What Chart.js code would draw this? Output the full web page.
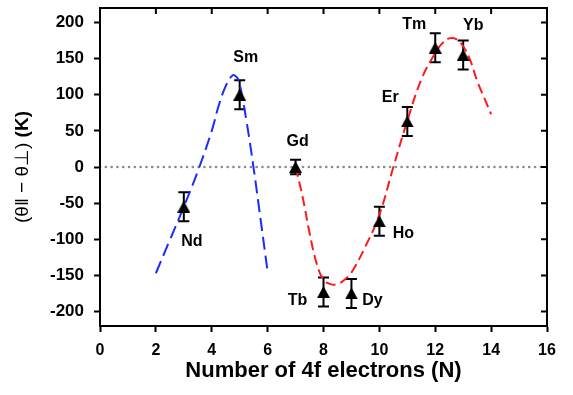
<!DOCTYPE html>
<html>
<head>
<meta charset="utf-8">
<script src="https://cdn.jsdelivr.net/npm/chart.js@4.4.1/dist/chart.umd.min.js"></script>
<style>
  html, body { margin: 0; padding: 0; background: #fff; }
  #chart { display: block; }
</style>
</head>
<body>
<canvas id="chart" width="573" height="395"></canvas>
<script>
// ---- data ----
var elements   = ['Nd', 'Sm', 'Gd', 'Tb', 'Dy', 'Ho', 'Er', 'Tm', 'Yb'];
var electrons  = [3, 5, 7, 8, 9, 10, 11, 12, 13];
var anisotropy = [-55, 100, 0, -173, -175, -75, 63, 165, 155];
var errors     = [20, 20, 10, 20, 20, 20, 20, 20, 20];

// light rare earth fit (blue dashed)
var lightFitX = [2, 2.5, 3, 3.5, 4, 4.25, 4.5, 4.75, 4.9, 5, 5.25, 5.5, 5.75, 6];
var lightFitY = [-147, -101, -55, -6, 50, 85, 112, 127, 124, 115, 62, -2, -73, -145];

// heavy rare earth fit (red dashed)
var heavyFitX = [7, 7.25, 7.5, 7.75, 8, 8.25, 8.5, 8.75, 9, 9.5, 10, 10.5, 11, 11.5, 12, 12.25, 12.5, 12.75, 13, 13.25, 13.5, 13.75, 14];
var heavyFitY = [0, -41, -91, -133, -156, -162, -162, -156, -146, -110, -66, 0, 64, 121, 158, 171, 178, 177, 167, 148, 119, 96, 73];

var xTicks = [0, 2, 4, 6, 8, 10, 12, 14, 16];
var yTicks = [-200, -150, -100, -50, 0, 50, 100, 150, 200];

// label placement relative to each point (px)
var labelOffsets = {
    Nd: [8, 35], Sm: [6, -37], Gd: [2, -25], Tb: [-26, 9], Dy: [21, 7],
    Ho: [24, 12], Er: [-17, -24], Tm: [-21, -23], Yb: [10, -29]
};

function pairs(xs, ys) {
    return xs.map(function (x, i) { return { x: x, y: ys[i] }; });
}

// filled triangle marker, centred on its bounding box
var tri = document.createElement('canvas');
tri.width = 13; tri.height = 12;
(function () {
    var c = tri.getContext('2d');
    c.fillStyle = '#000';
    c.beginPath();
    c.moveTo(6.5, 0); c.lineTo(13, 12); c.lineTo(0, 12);
    c.closePath();
    c.fill();
})();

var plotExtras = {
    id: 'plotExtras',
    beforeDatasetsDraw: function (chart) {
        var ctx = chart.ctx, xs = chart.scales.x, ys = chart.scales.y;
        ctx.save();
        ctx.strokeStyle = '#000';
        ctx.lineWidth = 2;
        electrons.forEach(function (n, i) {
            var px = xs.getPixelForValue(n);
            var top = ys.getPixelForValue(anisotropy[i] + errors[i]);
            var bot = ys.getPixelForValue(anisotropy[i] - errors[i]);
            ctx.beginPath();
            ctx.moveTo(px, top); ctx.lineTo(px, bot);
            ctx.moveTo(px - 5.5, top); ctx.lineTo(px + 5.5, top);
            ctx.moveTo(px - 5.5, bot); ctx.lineTo(px + 5.5, bot);
            ctx.stroke();
        });
        ctx.restore();
    },
    afterDraw: function (chart) {
        var ctx = chart.ctx, xs = chart.scales.x, ys = chart.scales.y;
        var a = chart.chartArea;
        ctx.save();

        // frame + mirrored inward ticks on top and right
        ctx.strokeStyle = '#000';
        ctx.lineWidth = 2;
        ctx.strokeRect(a.left, a.top, a.right - a.left, a.bottom - a.top);
        ctx.beginPath();
        xTicks.forEach(function (v) {
            var px = xs.getPixelForValue(v);
            ctx.moveTo(px, a.top); ctx.lineTo(px, a.top + 6);
        });
        yTicks.forEach(function (v) {
            var py = ys.getPixelForValue(v);
            ctx.moveTo(a.right, py); ctx.lineTo(a.right - 6, py);
        });
        ctx.stroke();

        // element labels
        ctx.fillStyle = '#000';
        ctx.font = 'bold 16px Arial, "Liberation Sans", sans-serif';
        ctx.textAlign = 'center';
        ctx.textBaseline = 'middle';
        elements.forEach(function (el, i) {
            var off = labelOffsets[el];
            ctx.fillText(el, xs.getPixelForValue(electrons[i]) + off[0],
                             ys.getPixelForValue(anisotropy[i]) + off[1]);
        });

        // x axis title
        ctx.font = 'bold 22px Arial, "Liberation Sans", sans-serif';
        ctx.fillText('Number of 4f electrons (N)', (a.left + a.right) / 2, 371);

        // y axis title: regular part + bold unit
        var part1 = '(\u03B8\u2016 \u2212 \u03B8\u22A5) ';
        var part2 = '(K)';
        var f1 = '19px Arial, "Liberation Sans", sans-serif';
        var f2 = 'bold 19px Arial, "Liberation Sans", sans-serif';
        ctx.font = f1; var w1 = ctx.measureText(part1).width;
        ctx.font = f2; var w2 = ctx.measureText(part2).width;
        ctx.translate(23, (a.top + a.bottom) / 2);
        ctx.rotate(-Math.PI / 2);
        ctx.textAlign = 'left';
        ctx.font = f1; ctx.fillText(part1, -(w1 + w2) / 2, 0);
        ctx.font = f2; ctx.fillText(part2, -(w1 + w2) / 2 + w1, 0);
        ctx.restore();
    }
};

new Chart(document.getElementById('chart'), {
    type: 'scatter',
    data: {
        datasets: [{
            label: 'data',
            data: pairs(electrons, anisotropy),
            pointStyle: tri,
            pointRadius: 7,
            pointHoverRadius: 7
        }, {
            label: 'light fit',
            type: 'line',
            data: pairs(lightFitX, lightFitY),
            borderColor: '#1a2bff',
            borderWidth: 2,
            borderDash: [13, 6],
            tension: 0.4,
            pointRadius: 0,
            fill: false
        }, {
            label: 'heavy fit',
            type: 'line',
            data: pairs(heavyFitX, heavyFitY),
            borderColor: '#ff1a1a',
            borderWidth: 2,
            borderDash: [10, 5],
            tension: 0.4,
            pointRadius: 0,
            fill: false
        }, {
            label: 'zero',
            type: 'line',
            data: [{ x: 0, y: 0 }, { x: 16, y: 0 }],
            borderColor: '#8c8c8c',
            borderWidth: 2.6,
            borderDash: [0.1, 5.7],
            borderCapStyle: 'round',
            pointRadius: 0,
            fill: false
        }]
    },
    options: {
        responsive: false,
        animation: false,
        events: [],
        layout: { padding: { left: 0, top: 6, right: 26, bottom: 0 } },
        plugins: { legend: { display: false }, tooltip: { enabled: false } },
        scales: {
            x: {
                type: 'linear', min: 0, max: 16,
                afterFit: function (s) { s.height = 69; s.paddingLeft = 0; s.paddingRight = 0; },
                afterBuildTicks: function (s) { s.ticks = xTicks.map(function (v) { return { value: v }; }); },
                ticks: { color: '#000', padding: 9, font: { family: 'Arial', size: 16, weight: 'bold' } },
                grid: { drawOnChartArea: false, drawTicks: true, tickLength: 6, tickColor: '#000', tickWidth: 2 },
                border: { display: true, color: '#000', width: 2 }
            },
            y: {
                type: 'linear', min: -220, max: 220,
                afterFit: function (s) { s.width = 100; s.paddingTop = 0; s.paddingBottom = 0; },
                afterBuildTicks: function (s) { s.ticks = yTicks.map(function (v) { return { value: v }; }); },
                ticks: { color: '#000', padding: 10, font: { family: 'Arial', size: 17, weight: 'bold' } },
                grid: { drawOnChartArea: false, drawTicks: true, tickLength: 6, tickColor: '#000', tickWidth: 2 },
                border: { display: true, color: '#000', width: 2 }
            }
        }
    },
    plugins: [plotExtras]
});
</script>
</body>
</html>
